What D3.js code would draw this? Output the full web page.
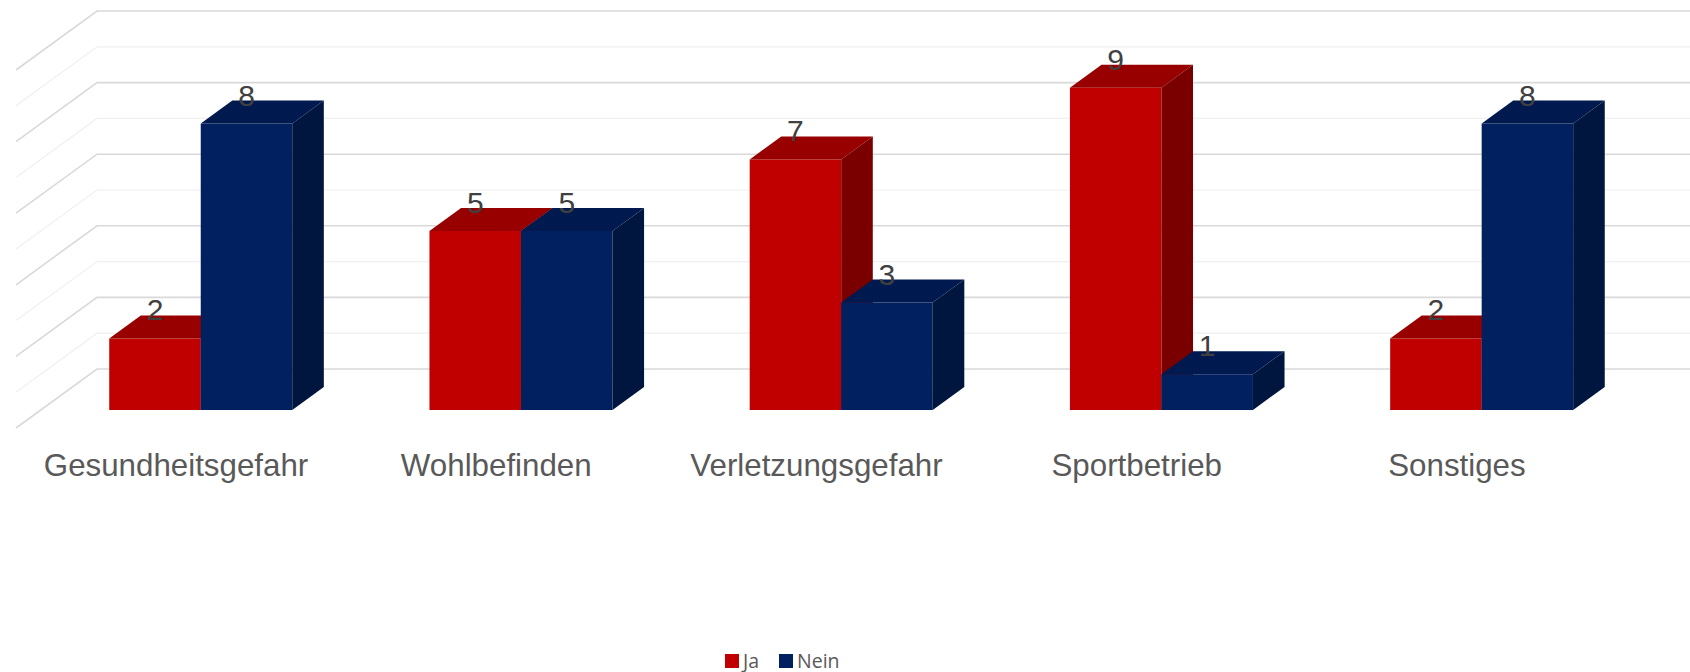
<!DOCTYPE html>
<html>
<head>
<meta charset="utf-8">
<script src="https://cdn.jsdelivr.net/npm/d3@7"></script>
<style>
  html, body { margin: 0; padding: 0; background: #ffffff; }
  svg { display: block; }
</style>
</head>
<body>
<svg id="chart" width="1690" height="672"></svg>
<script>
// Categories and series values
const categories = ["Gesundheitsgefahr", "Wohlbefinden", "Verletzungsgefahr", "Sportbetrieb", "Sonstiges"];
const seriesNames = ["Ja", "Nein"];
const jaValues = [2, 5, 7, 9, 2];
const neinValues = [8, 5, 3, 1, 8];
const yTicks = [0, 1, 2, 3, 4, 5, 6, 7, 8, 9, 10];

const W = 1690, H = 672;
const svg = d3.select("#chart");

// Oblique 3D projection: depth z in [0,1] shifts points right and up
const depthDX = 81, depthDY = 59;
const zFront = 0.305, zBack = 0.695;

const plotLeft = 16, plotWidth = 1601;
const x0 = d3.scaleBand().domain(categories).range([plotLeft, plotLeft + plotWidth])
  .paddingInner(0.4285).paddingOuter(0.214);
const x1 = d3.scaleBand().domain(seriesNames).range([0, x0.bandwidth()]);
const y = d3.scaleLinear().domain([0, 10]).range([428, 428 - 358]);

const P = (x, v, z) => [x + z * depthDX, y(v) - z * depthDY];

const colors = {
  Ja:   { front: "#c00000", top: "#980000", side: "#7a0000" },
  Nein: { front: "#002060", top: "#001a50", side: "#00163f" }
};

// Walls: gridlines on the back wall and the left side wall
const grid = svg.append("g");
yTicks.forEach(v => {
  const major = v % 2 === 0;
  const stroke = major ? "#d9d9d9" : "#f0f0f0";
  const sw = major ? 1.6 : 1.2;
  const a = P(plotLeft, v, 0), b = P(plotLeft, v, 1), c = P(plotLeft + plotWidth, v, 1);
  grid.append("path")
    .attr("d", d3.line()([a, b, c]))
    .attr("fill", "none").attr("stroke", stroke).attr("stroke-width", sw);
});

// Bars
const rows = categories.map((c, i) => ({ cat: c, Ja: jaValues[i], Nein: neinValues[i] }));
const bars = svg.append("g");
const poly = pts => "M" + pts.map(p => p.join(",")).join("L") + "Z";

rows.forEach(r => {
  seriesNames.forEach(s => {
    const v = r[s];
    const xl = x0(r.cat) + x1(s), xr = xl + x1.bandwidth();
    const col = colors[s];
    const g = bars.append("g");
    // front face
    g.append("path").attr("fill", col.front)
      .attr("d", poly([P(xl, 0, zFront), P(xr, 0, zFront), P(xr, v, zFront), P(xl, v, zFront)]));
    // top face
    g.append("path").attr("fill", col.top)
      .attr("d", poly([P(xl, v, zFront), P(xr, v, zFront), P(xr, v, zBack), P(xl, v, zBack)]));
    // right side face
    g.append("path").attr("fill", col.side)
      .attr("d", poly([P(xr, 0, zFront), P(xr, 0, zBack), P(xr, v, zBack), P(xr, v, zFront)]));
  });
});

// Data labels
rows.forEach(r => {
  seriesNames.forEach(s => {
    const v = r[s];
    const xc = x0(r.cat) + x1(s) + x1.bandwidth() / 2;
    const p = P(xc, v, zFront);
    svg.append("text")
      .attr("x", p[0]).attr("y", p[1] - 18)
      .attr("text-anchor", "middle")
      .attr("font-family", "'Liberation Sans', Arial, sans-serif")
      .attr("font-size", 30)
      .attr("fill", "#404040")
      .text(v);
  });
});

// Category axis labels
svg.append("g").selectAll("text").data(categories).join("text")
  .attr("x", d => x0(d) + x0.bandwidth() / 2)
  .attr("y", 476)
  .attr("text-anchor", "middle")
  .attr("font-family", "'Liberation Sans', Arial, sans-serif")
  .attr("font-size", 31.3)
  .attr("fill", "#595959")
  .text(d => d);

// Legend
const legend = svg.append("g").attr("transform", "translate(725,654)");
const legendX = [0, 54];
seriesNames.forEach((s, i) => {
  const g = legend.append("g").attr("transform", `translate(${legendX[i]},0)`);
  g.append("rect").attr("width", 14).attr("height", 14).attr("fill", colors[s].front);
  g.append("text").attr("x", 18).attr("y", 13.5)
    .attr("font-family", "'Open Sans', 'Noto Sans', sans-serif")
    .attr("font-size", 19.5)
    .attr("fill", "#595959")
    .text(s);
});
</script>
</body>
</html>
